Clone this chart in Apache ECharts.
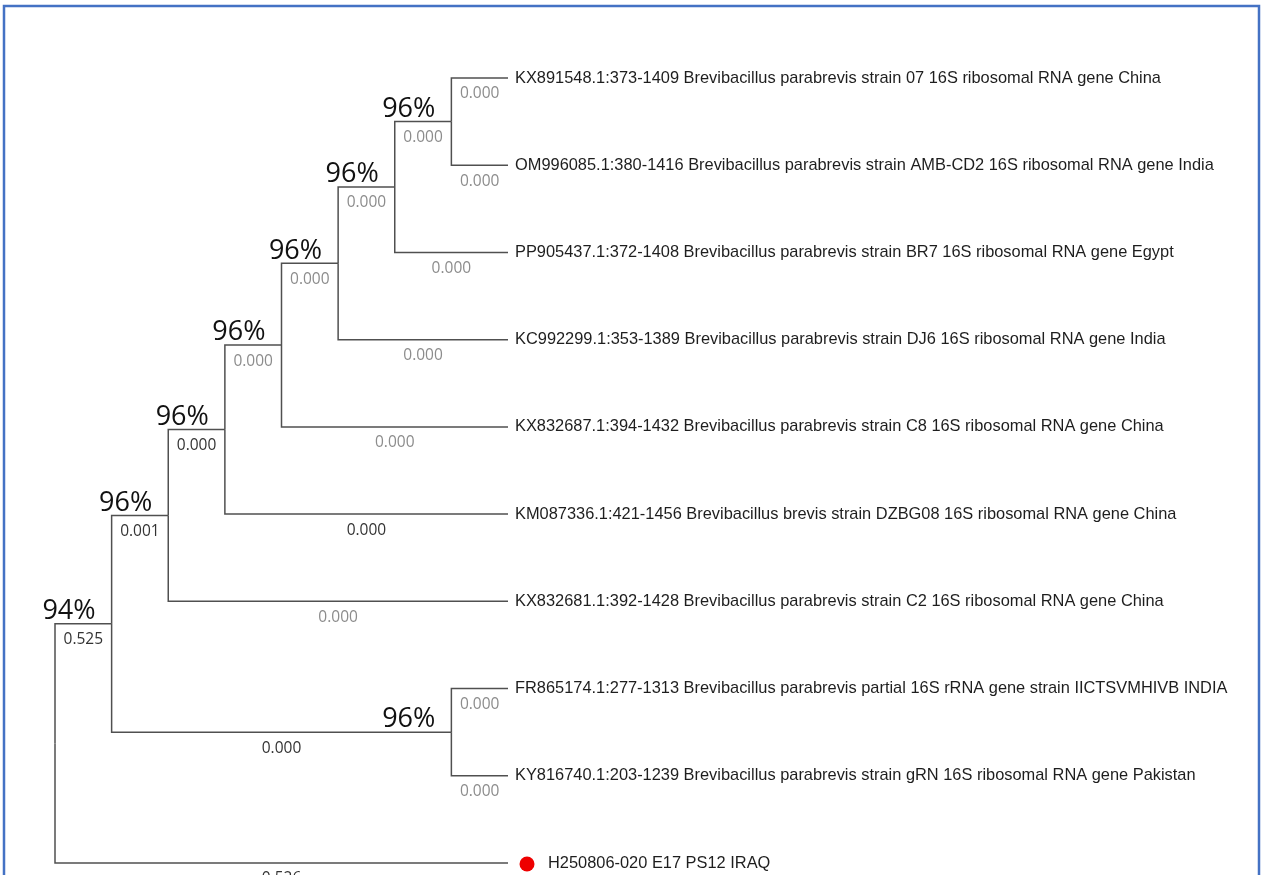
<!DOCTYPE html>
<html>
<head>
<meta charset="utf-8">
<script src="https://cdn.jsdelivr.net/npm/echarts@6/dist/echarts.min.js"></script>
<style>
html,body{margin:0;padding:0;background:#fff;}
#chart{width:1263px;height:875px;}
</style>
</head>
<body>
<div id="chart"></div>
<script>
// ---------------- DATA ----------------
const leafNames = [
  'KX891548.1:373-1409 Brevibacillus parabrevis strain 07 16S ribosomal RNA gene China',
  'OM996085.1:380-1416 Brevibacillus parabrevis strain AMB-CD2 16S ribosomal RNA gene India',
  'PP905437.1:372-1408 Brevibacillus parabrevis strain BR7 16S ribosomal RNA gene Egypt',
  'KC992299.1:353-1389 Brevibacillus parabrevis strain DJ6 16S ribosomal RNA gene India',
  'KX832687.1:394-1432 Brevibacillus parabrevis strain C8 16S ribosomal RNA gene China',
  'KM087336.1:421-1456 Brevibacillus brevis strain DZBG08 16S ribosomal RNA gene China',
  'KX832681.1:392-1428 Brevibacillus parabrevis strain C2 16S ribosomal RNA gene China',
  'FR865174.1:277-1313 Brevibacillus parabrevis partial 16S rRNA gene strain IICTSVMHIVB INDIA',
  'KY816740.1:203-1239 Brevibacillus parabrevis strain gRN 16S ribosomal RNA gene Pakistan',
  'H250806-020 E17 PS12 IRAQ'
];
const leafBranchLengths = ['0.000','0.000','0.000','0.000','0.000','0.000','0.000','0.000','0.000','0.526'];

// internal clades (children are leaf indices or clade names)
const cladeNames = ['A','B','C','D','E','F','G','H','root'];
const cladeChildren = [[0,1],['A',2],['B',3],['C',4],['D',5],['E',6],[7,8],['F','G'],['H',9]];
const cladeBootstrap = ['96%','96%','96%','96%','96%','96%','96%','94%',null];
const cladeBranchLengths = ['0.000','0.000','0.000','0.000','0.000','0.001','0.000','0.525',null];

// query leaf (marked with a red dot)
const markedLeaves = [9];

// ---------------- STYLE ----------------
const darkLeafLabels = [5, 9];
const darkCladeLabels = ['E','F','G','H'];
const GRAY = '#8c8c8c', DARK = '#333333', LINE = '#505050';

// ---------------- LAYOUT (topology -> scale values) ----------------
const nodes = {};
leafNames.forEach((n, i) => { nodes['L' + i] = {h: 0, y: i, leaf: i, bl: leafBranchLengths[i]}; });
function key(c){ return typeof c === 'number' ? 'L' + c : c; }
cladeNames.forEach((name, i) => {
  const kids = cladeChildren[i].map(key);
  const h = 1 + Math.max(...kids.map(k => nodes[k].h));
  const y = kids.reduce((s, k) => s + nodes[k].y, 0) / kids.length;
  nodes[name] = {h, y, name, boot: cladeBootstrap[i], bl: cladeBranchLengths[i]};
  kids.forEach(k => nodes[k].parent = name);
});
const order = Object.keys(nodes).filter(k => nodes[k].parent);
const seriesData = order.map(k => {
  const n = nodes[k], p = nodes[n.parent];
  return [p.h, p.y, n.h, n.y];
});
const maxH = nodes['root'].h;

const chart = echarts.init(document.getElementById('chart'), null, {renderer: 'canvas'});
chart.setOption({
  animation: false,
  backgroundColor: '#ffffff',
  grid: {left: 55, right: 755, top: 78, bottom: 12},
  xAxis: {type: 'value', min: 0, max: maxH, inverse: true, show: false},
  yAxis: {type: 'value', min: 0, max: leafNames.length - 1, inverse: true, show: false},
  graphic: [{
    type: 'rect', silent: true, z: 100,
    shape: {x: 4, y: 6, width: 1255, height: 900},
    style: {fill: 'none', stroke: '#4472C4', lineWidth: 2.5}
  }],
  series: [{
    type: 'custom',
    clip: false,
    data: seriesData,
    renderItem: function (params, api) {
      const k = order[params.dataIndex];
      const n = nodes[k];
      const p0 = api.coord([api.value(0), api.value(1)]);
      const p1 = api.coord([api.value(0), api.value(3)]);
      const p2 = api.coord([api.value(2), api.value(3)]);
      const children = [{
        type: 'polyline',
        shape: {points: [p0, p1, p2]},
        style: {stroke: LINE, lineWidth: 1.5, fill: null}
      }];
      const dark = n.leaf !== undefined ? darkLeafLabels.includes(n.leaf) : darkCladeLabels.includes(n.name);
      children.push({
        type: 'text',
        style: {
          x: (p1[0] + p2[0]) / 2, y: p2[1] + 8,
          text: n.bl, fill: dark ? DARK : GRAY,
          font: '15.5px "Open Sans"', align: 'center', verticalAlign: 'top'
        }
      });
      if (n.boot) {
        children.push({
          type: 'text',
          style: {
            x: p2[0] - 16, y: p2[1] + 1,
            text: n.boot, fill: '#111111',
            font: '27px "Open Sans"', align: 'right', verticalAlign: 'bottom'
          }
        });
      }
      if (n.leaf !== undefined) {
        let tx = p2[0] + 7;
        if (markedLeaves.includes(n.leaf)) {
          children.push({
            type: 'circle',
            shape: {cx: p2[0] + 19, cy: p2[1] + 1, r: 7.5},
            style: {fill: '#ee0000'}
          });
          tx = p2[0] + 40;
        }
        children.push({
          type: 'text',
          style: {
            x: tx, y: p2[1],
            text: leafNames[n.leaf], fill: '#1e1e1e',
            font: '16.4px "Liberation Sans", Arial, sans-serif', align: 'left', verticalAlign: 'middle'
          }
        });
      }
      return {type: 'group', children};
    }
  }]
});
</script>
</body>
</html>
